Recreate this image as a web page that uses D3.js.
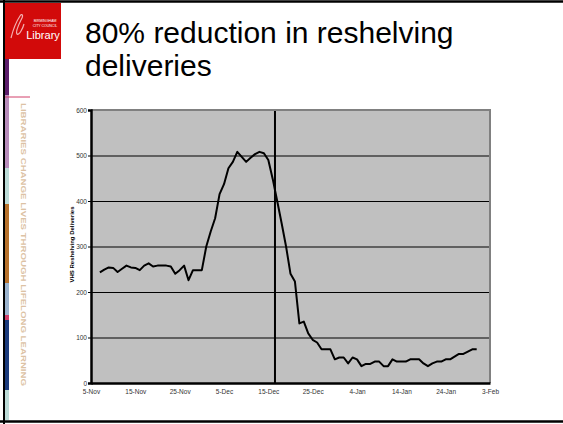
<!DOCTYPE html>
<html>
<head>
<meta charset="utf-8">
<script src="https://cdn.jsdelivr.net/npm/d3@7"></script>
<style>
  body { margin: 0; background: #fff; }
  svg { display: block; font-family: "Liberation Sans", Arial, sans-serif; }
</style>
</head>
<body>
<script>
// daily deliveries, first value is 7-Nov
var firstDay = "2001-11-07";
var deliveries = [
  243, 249, 254, 253, 244, 251, 258, 254, 253, 248,
  258, 263, 256, 258, 258, 258, 256, 240, 248, 258,
  226, 248, 248, 248, 300, 333, 362, 415, 437, 472,
  486, 508, 497, 486, 495, 503, 508, 505, 490, 448,
  400, 351, 300, 240, 223, 131, 135, 109, 95, 89,
  74, 74, 74, 52, 56, 56, 43, 56, 52, 37,
  42, 42, 47, 47, 37, 37, 52, 47, 47, 47,
  52, 52, 52, 43, 37, 43, 47, 47, 52, 52,
  58, 64, 64, 69, 74, 74
];
var xTicks = ["2001-11-05", "2001-11-15", "2001-11-25", "2001-12-05", "2001-12-15",
              "2001-12-25", "2002-01-04", "2002-01-14", "2002-01-24", "2002-02-03"];
var yTicks = [0, 100, 200, 300, 400, 500, 600];
var markerDay = "2001-12-16T12:00";
var titleLines = ["80% reduction in reshelving", "deliveries"];
var yTitle = "VHS Reshelving Deliveries";
var sideText = "LIBRARIES CHANGE LIVES THROUGH LIFELONG LEARNING";
// colour bands on the left strip
var bandTops = [59, 95, 168, 204, 283, 315, 320, 390];
var bandColors = ["#5b1e6b", "#b88dbb", "#bcdcd8", "#b8722c", "#9bb3cd", "#d2406a", "#1c3c7c", "#bcdcd8"];

var parse = d3.utcParse("%Y-%m-%d");
var start = parse(firstDay);
var data = deliveries.map((v, i) => ({ date: d3.utcDay.offset(start, i), value: v }));

var svg = d3.select("body").append("svg")
  .attr("width", 563)
  .attr("height", 424);

// slide frame
svg.append("line").attr("x1", 0).attr("x2", 563).attr("y1", 1.5).attr("y2", 1.5)
  .attr("stroke", "#000").attr("stroke-width", 2.5);
svg.append("line").attr("x1", 0).attr("x2", 563).attr("y1", 421.5).attr("y2", 421.5)
  .attr("stroke", "#000").attr("stroke-width", 2.5);
svg.append("line").attr("x1", 4).attr("x2", 4).attr("y1", 0).attr("y2", 424)
  .attr("stroke", "#000").attr("stroke-width", 2);

// left colour strip
bandTops.forEach((t, i) => {
  var b = i < bandTops.length - 1 ? bandTops[i + 1] : 420;
  svg.append("rect").attr("x", 5).attr("y", t).attr("width", 4).attr("height", b - t)
    .attr("fill", bandColors[i]);
});
svg.append("line").attr("x1", 5).attr("x2", 30).attr("y1", 97).attr("y2", 97)
  .attr("stroke", "#d2406a").attr("stroke-width", 1);

// logo
svg.append("rect").attr("x", 5).attr("y", 3).attr("width", 56).attr("height", 56)
  .attr("fill", "#d20a0a");
svg.append("path")
  .attr("d", "M11,38 C13,30 16,22 20,16 C22,13 24,15 21,20 C18,26 15,32 17,34 C19,36 23,28 24,24")
  .attr("fill", "none").attr("stroke", "#f3b0b0").attr("stroke-width", 1.2);
svg.append("text").attr("x", 45).attr("y", 22).attr("text-anchor", "middle")
  .attr("font-size", 3.5).attr("fill", "#fff").text("BIRMINGHAM");
svg.append("text").attr("x", 45).attr("y", 27).attr("text-anchor", "middle")
  .attr("font-size", 3.5).attr("fill", "#fff").text("CITY COUNCIL");
svg.append("text").attr("x", 43).attr("y", 39).attr("text-anchor", "middle")
  .attr("font-size", 11).attr("fill", "#fff").text("Library");

// vertical slogan
svg.append("text")
  .attr("transform", "translate(21,103) rotate(90)")
  .attr("font-size", 8).attr("font-weight", "bold")
  .attr("fill", "#dcc2a4")
  .attr("textLength", 283).attr("lengthAdjust", "spacingAndGlyphs")
  .text(sideText);

// title
svg.selectAll(".title").data(titleLines).enter().append("text")
  .attr("class", "title")
  .attr("x", 85)
  .attr("y", (d, i) => 43 + i * 33)
  .attr("font-size", 30)
  .attr("fill", "#000")
  .text(d => d);

// chart area
var pLeft = 91, pRight = 490, pTop = 110, pBottom = 383;
var x = d3.scaleUtc().domain([parse(xTicks[0]), parse(xTicks[xTicks.length - 1])]).range([pLeft, pRight]);
var y = d3.scaleLinear().domain([0, 600]).range([pBottom, pTop]);

svg.append("rect").attr("x", pLeft).attr("y", pTop)
  .attr("width", pRight - pLeft).attr("height", pBottom - pTop)
  .attr("fill", "#c0c0c0");

// gridlines
svg.append("g")
  .attr("transform", `translate(${pLeft},0)`)
  .call(d3.axisLeft(y).tickValues(yTicks.slice(1, -1)).tickSize(-(pRight - pLeft)).tickFormat(""))
  .call(g => g.select(".domain").remove())
  .selectAll("line").attr("stroke", "#000").attr("stroke-width", 1);

// series line
svg.append("path")
  .datum(data)
  .attr("fill", "none")
  .attr("stroke", "#000")
  .attr("stroke-width", 2)
  .attr("stroke-linejoin", "round")
  .attr("d", d3.line().x(d => x(d.date)).y(d => y(d.value)));

// marker line
var mx = x(d3.isoParse(markerDay + "Z"));
svg.append("line").attr("x1", mx).attr("x2", mx).attr("y1", pTop).attr("y2", pBottom)
  .attr("stroke", "#000").attr("stroke-width", 2);

// grey top and right border
svg.append("path")
  .attr("d", `M${pLeft},${pTop}H${pRight}V${pBottom}`)
  .attr("fill", "none").attr("stroke", "#808080").attr("stroke-width", 2);

// y axis
var yAxis = svg.append("g")
  .attr("transform", `translate(${pLeft},0)`)
  .call(d3.axisLeft(y).tickValues(yTicks).tickSize(3).tickPadding(1));
yAxis.select(".domain").attr("stroke", "#000").attr("stroke-width", 2.5);
yAxis.selectAll(".tick line").attr("stroke", "#000");
yAxis.selectAll("text").attr("font-size", 6.5).attr("fill", "#333").attr("font-family", "Liberation Sans, Arial");

// x axis
var xAxis = svg.append("g")
  .attr("transform", `translate(0,${pBottom})`)
  .call(d3.axisBottom(x).tickValues(xTicks.map(parse)).tickSize(0).tickPadding(6)
    .tickFormat(d3.utcFormat("%-d-%b")));
xAxis.select(".domain").attr("stroke", "#000").attr("stroke-width", 2.5);
xAxis.selectAll("text").attr("font-size", 6.5).attr("fill", "#333").attr("font-family", "Liberation Sans, Arial");

// y axis title
svg.append("text")
  .attr("transform", `translate(74,${(pTop + pBottom) / 2 - 2}) rotate(-90)`)
  .attr("text-anchor", "middle")
  .attr("font-size", 6).attr("font-weight", "bold")
  .text(yTitle);
</script>
</body>
</html>
